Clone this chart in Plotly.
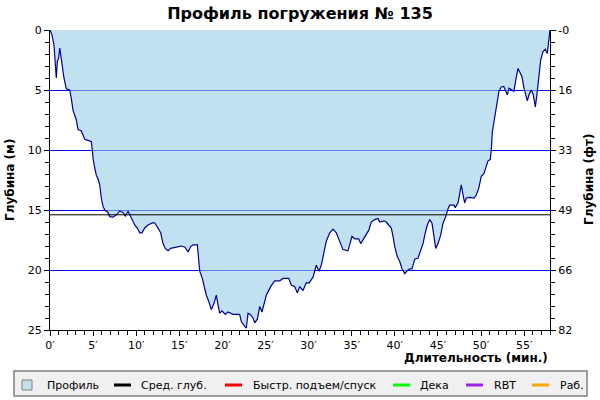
import plotly.graph_objects as go

# ---------------- data ----------------
time_min = [0.0, 0.08, 0.23, 0.46, 0.55, 0.61, 0.73, 0.85, 1.0, 1.13, 1.24, 1.32, 1.51, 1.62, 1.89,
            2.29, 2.47, 2.67, 2.87, 3.05, 3.25, 3.63, 3.83, 4.03, 4.41, 4.79, 4.91, 4.99, 5.19, 5.37,
            5.57, 5.77, 5.95, 6.15, 6.35, 6.73, 6.93, 7.31, 7.69, 8.09, 8.47, 8.73, 9.05, 9.43, 9.83,
            10.13, 10.41, 10.67, 10.99, 11.37, 11.95, 12.18, 12.53, 12.84, 13.11, 13.37, 13.69, 14.0,
            14.65, 15.23, 15.66, 16.01, 16.32, 16.59, 17.09, 17.25, 17.37, 17.67, 17.86, 18.13, 18.41,
            18.71, 19.02, 19.29, 19.49, 19.69, 19.95, 20.33, 20.65, 21.23, 22.0, 22.19, 22.59, 22.77,
            22.97, 23.28, 23.55, 23.75, 24.05, 24.33, 24.59, 24.91, 25.09, 25.37, 25.67, 26.07, 26.65,
            27.03, 27.69, 27.99, 28.39, 28.69, 28.97, 29.35, 29.73, 30.04, 30.51, 30.89, 31.09, 31.2,
            31.47, 31.78, 32.05, 32.45, 32.83, 33.21, 33.61, 33.99, 34.57, 35.03, 35.35, 35.81, 36.04,
            36.31, 36.69, 36.97, 37.27, 37.67, 38.05, 38.25, 38.74, 39.01, 39.29, 39.59, 39.79, 39.99,
            40.29, 40.57, 40.83, 41.15, 41.45, 41.73, 41.99, 42.31, 42.69, 43.0, 43.27, 43.53, 43.77,
            44.05, 44.31, 44.54, 44.74, 45.01, 45.32, 45.59, 45.9, 46.17, 46.37, 46.86, 47.01, 47.33,
            47.53, 47.71, 47.91, 48.1, 48.29, 48.69, 49.18, 49.45, 49.73, 50.03, 50.34, 50.61, 50.81,
            51.07, 51.19, 51.31, 51.5, 51.7, 51.89, 52.08, 52.35, 52.63, 52.81, 53.05, 53.24, 53.51,
            53.82, 54.02, 54.29, 54.49, 54.75, 54.98, 55.37, 55.56, 55.83, 56.06, 56.3, 56.53, 56.69,
            56.92, 57.19, 57.45, 57.69, 57.85, 57.97, 58.0]
depth_m = [0.0, 0.1, 0.4, 1.25, 2.1, 3.05, 4.0, 2.6, 2.35, 1.5, 2.1, 2.6, 3.2, 4.0, 4.9,
           5.0, 5.7, 6.7, 7.1, 7.5, 8.3, 8.4, 8.75, 9.1, 9.2, 9.3, 10.0, 10.7, 11.5, 12.1,
           12.4, 12.9, 14.0, 14.7, 15.0, 15.2, 15.55, 15.6, 15.4, 15.1, 15.2, 15.5, 15.1, 15.7, 16.25,
           16.5, 16.9, 16.9, 16.5, 16.25, 16.05, 16.1, 16.5, 16.9, 17.8, 18.2, 18.4, 18.2,
           18.1, 18.0, 18.1, 18.5, 18.05, 17.9, 17.9, 19.4, 20.1, 20.7, 21.4, 22.1, 22.6,
           23.3, 22.8, 22.1, 22.9, 23.6, 23.4, 23.7, 23.5, 23.7, 23.7, 24.3, 24.7, 24.85,
           23.6, 23.75, 24.0, 24.4, 24.1, 23.05, 23.5, 22.5, 22.1, 21.7, 21.3, 20.9, 20.9,
           20.7, 20.7, 21.25, 21.4, 21.9, 21.4, 21.7, 21.05, 21.1, 20.6, 19.6, 19.9, 20.1,
           19.6, 18.6, 17.6, 16.9, 16.6, 16.9, 17.6, 18.3, 18.4, 17.2, 17.4, 17.4, 17.8,
           17.5, 17.1, 16.7, 16.0, 15.8, 15.7, 16.0, 15.9, 16.0, 16.25, 16.5, 17.2, 18.05,
           18.9, 19.3, 19.9, 20.3, 20.05, 19.9, 19.9, 19.1, 19.0, 18.3, 17.8, 16.9, 16.25,
           15.8, 16.1, 17.2, 18.2, 17.8, 17.1, 16.1, 15.55, 14.9, 14.6, 14.6, 14.8, 14.4,
           13.5, 12.9, 13.75, 14.4, 14.0, 13.95, 14.0, 13.75, 13.2, 12.2, 11.95, 11.25, 10.9,
           10.8, 10.0, 8.5, 7.6, 6.7, 5.8, 5.1, 4.75, 4.7, 5.0, 5.4, 4.85, 5.0,
           5.1, 4.2, 3.2, 3.5, 3.9, 4.85, 5.9, 5.4, 5.0, 5.4, 6.4, 5.1, 4.0,
           2.5, 1.8, 1.6, 1.95, 0.55, 0.15, 0.0]
mean_depth = 15.4

x_ticks = [0, 5, 10, 15, 20, 25, 30, 35, 40, 45, 50, 55]
x_tick_labels = [f"{v}\u2032" for v in x_ticks]
y_ticks = [0, 5, 10, 15, 20, 25]
ft_tick_labels = ["-0", "16", "33", "49", "66", "82"]

legend_names = ["Профиль", "Сред. глуб.", "Быстр. подъем/спуск", "Дека", "RBT", "Раб."]
legend_colors = ["#c1e1f1", "#000000", "#ff0000", "#00ff00", "#a020f0", "#ffa500"]

# ---------------- layout helpers (pixel -> paper) ----------------
PL, PR, PT, PB = 50, 550, 30, 330
def px_x(p):
    return (p - PL) / (PR - PL)
def px_y(p):
    return (PB - p) / (PB - PT)

FONT = "DejaVu Sans"

fig = go.Figure()
fig.add_trace(go.Scatter(
    x=time_min, y=depth_m, mode="lines",
    line=dict(color="#000090", width=1.2),
    fill="tozeroy", fillcolor="rgba(151,205,232,0.6)",
    hoverinfo="skip", showlegend=False))
fig.add_trace(go.Scatter(
    x=[time_min[0], time_min[-1]], y=[mean_depth, mean_depth], mode="lines",
    line=dict(color="black", width=1), hoverinfo="skip", showlegend=False))
fig.add_trace(go.Scatter(x=[None], y=[None], yaxis="y2", showlegend=False, hoverinfo="skip"))

minor = dict(tickmode="linear", tick0=0, dtick=1, ticks="outside", ticklen=4,
             tickcolor="black", tickwidth=1, showgrid=False)
tickfont = dict(family=FONT, size=11, color="black")

fig.update_layout(
    width=600, height=400,
    margin=dict(l=PL, r=600 - PR, t=PT, b=400 - PB),
    paper_bgcolor="white", plot_bgcolor="white",
    showlegend=False, hovermode=False,
    font=dict(family=FONT, size=11, color="black"),
    title=dict(text="<b>Профиль погружения № 135</b>", x=0.5, xanchor="center",
               y=1 - 13 / 400, yanchor="middle", font=dict(family=FONT, size=16, color="black")),
    xaxis=dict(range=[0, 58], tickmode="array", tickvals=x_ticks, ticktext=x_tick_labels,
               ticks="outside", ticklen=5, tickcolor="black", showline=True, linecolor="black",
               linewidth=1, showgrid=False, zeroline=False, tickfont=tickfont, minor=minor),
    yaxis=dict(range=[25, 0], tickmode="array", tickvals=y_ticks, ticks="outside", ticklen=5,
               tickcolor="black", showline=True, linecolor="black", linewidth=1,
               showgrid=True, gridcolor="#0000ff", gridwidth=1, zeroline=False,
               tickfont=tickfont, minor=minor),
    yaxis2=dict(range=[25, 0], overlaying="y", side="right", tickmode="array",
                tickvals=y_ticks, ticktext=ft_tick_labels, ticks="outside", ticklen=5,
                tickcolor="black", showline=True, linecolor="black", linewidth=1,
                showgrid=False, zeroline=False, tickfont=tickfont, minor=minor),
)

annotations = [
    dict(text="<b>Глубина (м)</b>", x=px_x(10), y=0.5, xref="paper", yref="paper",
         textangle=-90, showarrow=False, xanchor="center", yanchor="middle",
         font=dict(family=FONT, size=12)),
    dict(text="<b>Глубина (фт)</b>", x=px_x(589), y=0.5, xref="paper", yref="paper",
         textangle=-90, showarrow=False, xanchor="center", yanchor="middle",
         font=dict(family=FONT, size=12)),
    dict(text="<b>Длительность (мин.)</b>", x=px_x(550), y=px_y(358), xref="paper", yref="paper",
         showarrow=False, xanchor="right", yanchor="middle", font=dict(family=FONT, size=12)),
]

shapes = [
    dict(type="rect", xref="paper", yref="paper", x0=px_x(14), x1=px_x(587),
         y0=px_y(396), y1=px_y(371), line=dict(color="#808080", width=1.5),
         fillcolor="#f0f0f0", layer="below"),
]

# legend entries (symbol start px, text start px)
sym_x = [22, 114, 225, 393, 466, 532]
txt_x = [45, 139, 251, 418, 492, 558]
ly = 385
for i, name in enumerate(legend_names):
    if i == 0:
        shapes.append(dict(type="rect", xref="paper", yref="paper",
                           x0=px_x(sym_x[i]), x1=px_x(sym_x[i] + 10),
                           y0=px_y(ly + 5), y1=px_y(ly - 5),
                           line=dict(color="#808080", width=1), fillcolor=legend_colors[i]))
    else:
        shapes.append(dict(type="line", xref="paper", yref="paper",
                           x0=px_x(sym_x[i]), x1=px_x(sym_x[i] + 17),
                           y0=px_y(ly), y1=px_y(ly),
                           line=dict(color=legend_colors[i], width=3)))
    annotations.append(dict(text=name, x=px_x(txt_x[i]), y=px_y(ly), xref="paper", yref="paper",
                            showarrow=False, xanchor="left", yanchor="middle",
                            font=dict(family=FONT, size=11, color="black")))

fig.update_layout(annotations=annotations, shapes=shapes)
fig.write_html("out.html", config={"displayModeBar": False},
               post_script="document.body.style.margin='0';document.body.style.overflow='hidden';")
